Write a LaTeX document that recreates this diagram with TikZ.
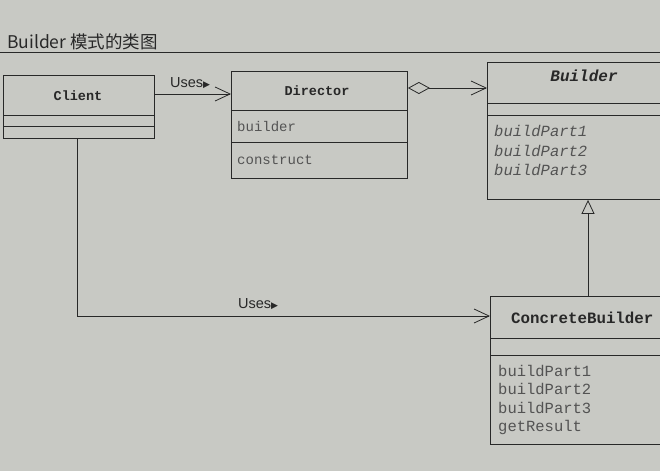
\documentclass[tikz,border=0pt]{standalone}
\usepackage{fontspec}
\setmainfont{Liberation Sans}
\setmonofont{Liberation Mono}
\newfontfamily\cjkf{Noto Sans CJK SC}
\newfontfamily\dv{DejaVu Sans}
\usetikzlibrary{arrows.meta}
\definecolor{paper}{RGB}{200,201,196}
\definecolor{ink}{RGB}{40,40,40}
\tikzset{
  umlbox/.style={draw=ink, line width=0.9pt, anchor=north west, inner sep=0pt},
  sepline/.style={draw=ink, line width=0.8pt},
  cname/.style={font=\ttfamily\bfseries\fontsize{13.5}{15}\selectfont, text=ink},
  member/.style={font=\ttfamily\fontsize{14}{16}\selectfont, text=ink!80, anchor=west, inner sep=0pt},
  conn/.style={draw=ink, line width=0.8pt},
  usesarrow/.style={conn, -{Straight Barb[length=15pt,width=14pt,line width=0.8pt]}},
  usestext/.style={font=\fontsize{14.5}{16}\selectfont, text=ink, inner sep=0pt},
}
\begin{document}
\begin{tikzpicture}[x=1pt,y=-1pt]
\useasboundingbox (0,0) rectangle (660,471);
\clip (0,0) rectangle (660,471);
\fill[paper] (0,0) rectangle (660,471);

% title
\node[anchor=west, inner sep=0pt, font=\cjkf\fontsize{17.5}{19}\selectfont, text=ink] (title) at (7,42) {Builder 模式的类图};
\coordinate (tl) at (0,52);
\coordinate (tr) at (660,52);
\draw[draw=ink, line width=0.8pt] (tl) -- (tr);

% Client
\node[umlbox, minimum width=151pt, minimum height=63pt] (client) at (3,75) {};
\node[cname] (clientname) at (78,96) {Client};
\draw[sepline] (client.west |- 0,115) -- (client.east |- 0,115);
\draw[sepline] (client.west |- 0,126) -- (client.east |- 0,126);

% Director
\node[umlbox, minimum width=176pt, minimum height=107pt] (director) at (231,71) {};
\node[cname] (directorname) at (317,91) {Director};
\draw[sepline] (director.west |- 0,110) -- (director.east |- 0,110);
\draw[sepline] (director.west |- 0,142) -- (director.east |- 0,142);
\node[member] (dbuilder) at (237,127) {builder};
\node[member] (dconstruct) at (237,160) {construct};

% Builder
\node[umlbox, minimum width=195pt, minimum height=137pt] (builder) at (487,62) {};
\node[cname, font=\ttfamily\bfseries\itshape\fontsize{16}{18}\selectfont] (buildername) at (584,76) {Builder};
\draw[sepline] (builder.west |- 0,103) -- (builder.east |- 0,103);
\draw[sepline] (builder.west |- 0,115) -- (builder.east |- 0,115);
\node[member, font=\ttfamily\itshape\fontsize{15.5}{17}\selectfont] (bp1) at (494,131) {buildPart1};
\node[member, font=\ttfamily\itshape\fontsize{15.5}{17}\selectfont] (bp2) at (494,151) {buildPart2};
\node[member, font=\ttfamily\itshape\fontsize{15.5}{17}\selectfont] (bp3) at (494,170) {buildPart3};

% ConcreteBuilder
\node[umlbox, minimum width=204pt, minimum height=148pt] (concrete) at (490,296) {};
\node[cname, font=\ttfamily\bfseries\fontsize{15.8}{18}\selectfont, anchor=west, inner sep=0pt] (concretename) at (511,318) {ConcreteBuilder};
\draw[sepline] (concrete.west |- 0,338) -- (concrete.east |- 0,338);
\draw[sepline] (concrete.west |- 0,355) -- (concrete.east |- 0,355);
\node[member, font=\ttfamily\fontsize{15.5}{17}\selectfont] (cp1) at (498,371) {buildPart1};
\node[member, font=\ttfamily\fontsize{15.5}{17}\selectfont] (cp2) at (498,389) {buildPart2};
\node[member, font=\ttfamily\fontsize{15.5}{17}\selectfont] (cp3) at (498,408) {buildPart3};
\node[member, font=\ttfamily\fontsize{15.5}{17}\selectfont] (cgr) at (498,427) {getResult};

% Client -> Director (Uses)
\draw[usesarrow] (client.east |- 0,94) -- (director.west |- 0,94);
\node[usestext, anchor=south west] (uses1) at (170,89) {Uses{\dv\fontsize{9}{10}\selectfont ▶}};

% Director <>-> Builder
\draw[conn, {Diamond[open, length=22pt, width=12pt, line width=0.8pt]}-{Straight Barb[length=15pt,width=14pt,line width=0.8pt]}] (director.east |- 0,88) -- (builder.west |- 0,88);

% ConcreteBuilder --|> Builder
\draw[conn, -{Triangle[open, length=14pt, width=13pt, line width=0.8pt]}] (concrete.north -| 588,0) -- (builder.south -| 588,0);

% Client -> ConcreteBuilder (Uses)
\coordinate (bend) at (77,316);
\draw[usesarrow] (client.south -| 77,0) -- (bend) -- (concrete.west |- 0,316);
\node[usestext, anchor=south west] (uses2) at (238,310) {Uses{\dv\fontsize{9}{10}\selectfont ▶}};
\end{tikzpicture}
\end{document}
